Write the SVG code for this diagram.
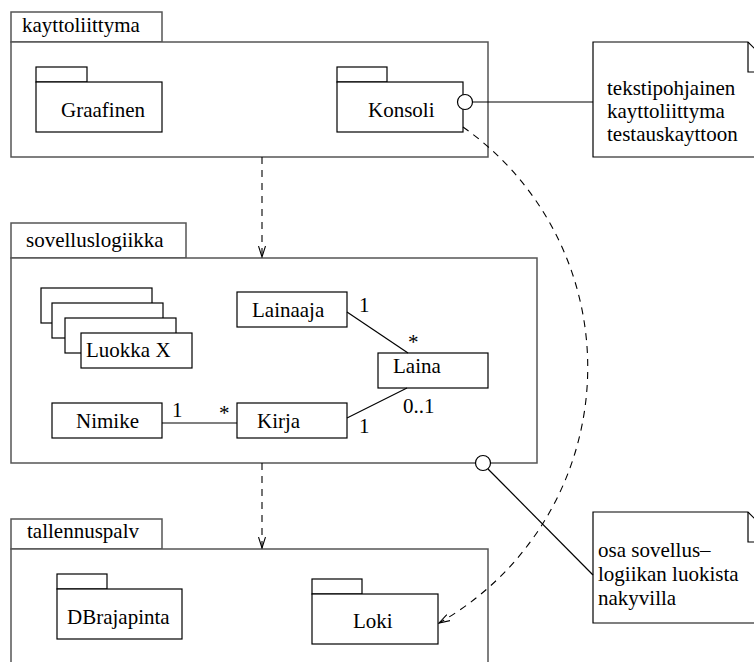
<svg xmlns="http://www.w3.org/2000/svg" width="754" height="662" viewBox="0 0 754 662">
  <style>
    text { font-family: "Liberation Serif", "Times New Roman", serif; font-size: 21px; fill: #000; }
    .pkg { fill: #fff; stroke: #555; stroke-width: 1.5; }
    .box { fill: #fff; stroke: #000; stroke-width: 1.2; }
    .note { fill: #fff; stroke: #000; stroke-width: 1.2; }
    .line { fill: none; stroke: #000; stroke-width: 1.2; }
    .dep { fill: none; stroke: #000; stroke-width: 1.1; stroke-dasharray: 7 6; }
    .iface { fill: #fff; stroke: #000; stroke-width: 1.2; }
  </style>
  <defs>
    <marker id="open" viewBox="0 0 12 8" refX="11" refY="4" markerWidth="12" markerHeight="8" markerUnits="userSpaceOnUse" orient="auto">
      <path d="M0,0.5 L11,4 L0,7.5" fill="none" stroke="#000" stroke-width="1.1"/>
    </marker>
  </defs>
  <rect width="754" height="662" fill="#fff"/>

  <!-- package: kayttoliittyma -->
  <g id="kayttoliittyma">
    <rect class="pkg" x="11" y="12" width="151" height="30"/>
    <rect class="pkg" x="11" y="42" width="477" height="115"/>
    <text x="22" y="32">kayttoliittyma</text>
  </g>
  <g id="graafinen">
    <rect class="box" x="36" y="67" width="51" height="15"/>
    <rect class="box" x="36" y="82" width="126" height="50"/>
    <text x="61" y="117">Graafinen</text>
  </g>
  <g id="konsoli">
    <rect class="box" x="337" y="67" width="50" height="15"/>
    <rect class="box" x="337" y="82" width="126" height="50"/>
    <text x="368" y="117">Konsoli</text>
  </g>

  <!-- note attached to Konsoli -->
  <g id="note-konsoli">
    <path class="note" d="M593,42 H748 L778,72 V157 H593 Z"/>
    <path class="line" d="M748,42 V72 H778"/>
    <text x="607" y="95">tekstipohjainen</text>
    <text x="607" y="118">kayttoliittyma</text>
    <text x="607" y="141">testauskayttoon</text>
  </g>

  <!-- package: sovelluslogiikka -->
  <g id="sovelluslogiikka">
    <rect class="pkg" x="11" y="223" width="175" height="35"/>
    <rect class="pkg" x="11" y="258" width="526" height="205"/>
    <text x="26" y="247">sovelluslogiikka</text>
  </g>
  <g id="luokka-x">
    <rect class="box" x="41" y="288" width="111" height="35"/>
    <rect class="box" x="52" y="303" width="111" height="35"/>
    <rect class="box" x="65" y="318" width="111" height="35"/>
    <rect class="box" x="81" y="333" width="111" height="35"/>
    <text x="86" y="357">Luokka X</text>
  </g>
  <g id="lainaaja">
    <rect class="box" x="237" y="292" width="110" height="35"/>
    <text x="252" y="317">Lainaaja</text>
  </g>
  <g id="laina">
    <rect class="box" x="378" y="353" width="110" height="35"/>
    <text x="393" y="373">Laina</text>
  </g>
  <g id="nimike">
    <rect class="box" x="52" y="403" width="110" height="35"/>
    <text x="76" y="428">Nimike</text>
  </g>
  <g id="kirja">
    <rect class="box" x="237" y="403" width="110" height="35"/>
    <text x="257" y="428">Kirja</text>
  </g>

  <!-- note attached to sovelluslogiikka interface -->
  <g id="note-sovellus">
    <path class="note" d="M593,512 H748 L778,542 V623 H593 Z"/>
    <path class="line" d="M748,512 V542 H778"/>
    <text x="598" y="557">osa sovellus–</text>
    <text x="598" y="581">logiikan luokista</text>
    <text x="598" y="605">nakyvilla</text>
  </g>

  <!-- package: tallennuspalv -->
  <g id="tallennuspalv">
    <rect class="pkg" x="11" y="519" width="151" height="30"/>
    <rect class="pkg" x="11" y="549" width="477" height="130"/>
    <text x="27" y="538">tallennuspalv</text>
  </g>
  <g id="dbrajapinta">
    <rect class="box" x="57" y="574" width="50" height="15"/>
    <rect class="box" x="57" y="589" width="125" height="50"/>
    <text x="67" y="624">DBrajapinta</text>
  </g>
  <g id="loki">
    <rect class="box" x="312" y="579" width="50" height="15"/>
    <rect class="box" x="312" y="594" width="126" height="50"/>
    <text x="353" y="628">Loki</text>
  </g>

  <!-- connectors -->
  <g id="connectors">
    <!-- dependencies between packages -->
    <line class="dep" x1="262" y1="157" x2="262" y2="257" marker-end="url(#open)"/>
    <line class="dep" x1="262" y1="463" x2="262" y2="548" marker-end="url(#open)"/>
    <!-- Konsoli uses Loki -->
    <path class="dep" d="M463,127 A294,294 0 0 1 439,623" marker-end="url(#open)"/>
    <!-- associations -->
    <line class="line" x1="347" y1="312" x2="408" y2="353"/>
    <line class="line" x1="347" y1="418" x2="407" y2="388"/>
    <line class="line" x1="162" y1="423" x2="237" y2="423"/>
    <!-- note links -->
    <line class="line" x1="472" y1="102" x2="593" y2="102"/>
    <line class="line" x1="488" y1="469" x2="593" y2="575"/>
    <!-- provided interfaces -->
    <circle class="iface" cx="465" cy="102" r="7.5"/>
    <circle class="iface" cx="483" cy="463" r="7.5"/>
    <!-- multiplicities -->
    <text x="359" y="312">1</text>
    <text x="408" y="349">*</text>
    <text x="403" y="413">0..1</text>
    <text x="359" y="433">1</text>
    <text x="172" y="417">1</text>
    <text x="219" y="420">*</text>
  </g>
</svg>
